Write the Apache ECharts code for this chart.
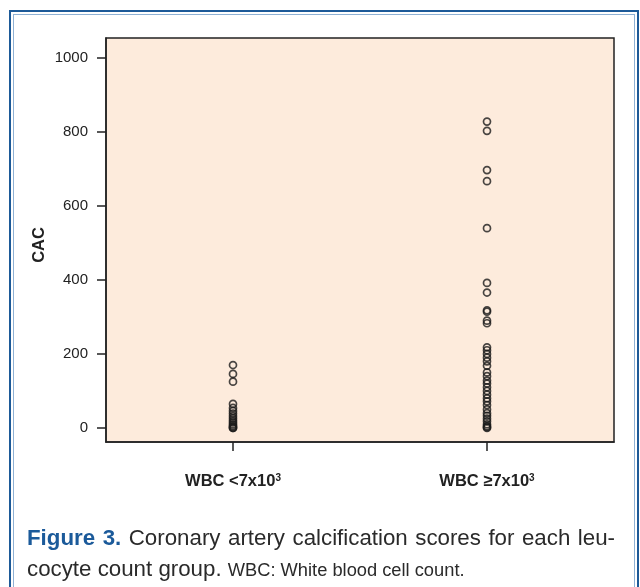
<!DOCTYPE html>
<html>
<head>
<meta charset="utf-8">
<script src="https://cdn.jsdelivr.net/npm/echarts@6/dist/echarts.min.js"></script>
<style>
  html, body { margin: 0; padding: 0; background: #fff; }
  #wrap { position: relative; width: 640px; height: 587px; overflow: hidden; background: #fff; }
  #frameOuter { position: absolute; left: 9px; top: 10px; width: 626px; height: 600px; border: 2px solid #1d5a98; }
  #frameInner { position: absolute; left: 2px; top: 2px; right: 2px; bottom: 2px; border: 1.5px solid #8fb1d4; }
  #chart { position: absolute; left: 0; top: 0; width: 640px; height: 587px; }
  #caption { position: absolute; left: 27px; top: 522px; width: 588px; font-family: "Liberation Sans", Arial, sans-serif; color: #2a2a2a; font-size: 22.3px; line-height: 31px; }
  #caption .l1 { text-align: justify; text-align-last: justify; white-space: nowrap; }
  #caption b { color: #1b5a9a; }
  #caption .small { font-size: 18.3px; }
</style>
</head>
<body>
<div id="wrap">
  <div id="frameOuter"><div id="frameInner"></div></div>
  <div id="chart"></div>
  <div id="caption">
    <div class="l1"><b>Figure 3.</b> Coronary artery calcification scores for each leu-</div>
    <div>cocyte count group. <span class="small">WBC: White blood cell count.</span></div>
  </div>
</div>
<script>
const categories = ['WBC <7x10{sup|3}', 'WBC \u22657x10{sup|3}'];
const yTicks = [0, 200, 400, 600, 800, 1000];
const groupLow = [170, 146, 125, 65, 54, 46, 39, 32, 26, 20, 15, 10, 6, 3, 0, 0];
const groupHigh = [828, 803, 697, 667, 540, 392, 366, 318, 314, 290, 283, 218, 210, 200, 190, 180, 168, 150, 140, 128, 120, 110, 100, 90, 80, 72, 62, 50, 40, 33, 25, 18, 10, 5, 2, 0];

const chart = echarts.init(document.getElementById('chart'));
const markerStyle = { color: 'rgba(0,0,0,0)', borderColor: '#1a1a1a', borderWidth: 1.7 };
const font = 'Liberation Sans, Arial, sans-serif';
chart.setOption({
  animation: false,
  backgroundColor: 'transparent',
  grid: { left: 106, top: 38, width: 508, height: 404, show: true, backgroundColor: '#fdebdc', borderColor: '#222', borderWidth: 1.5 },
  xAxis: {
    type: 'category',
    data: categories,
    boundaryGap: true,
    axisLine: { show: true, onZero: false, lineStyle: { color: '#222', width: 1.5 } },
    axisTick: { show: true, alignWithLabel: true, length: 9, lineStyle: { color: '#222', width: 1.5 } },
    axisLabel: {
      margin: 31, color: '#222', fontSize: 16.5, fontWeight: 'bold', fontFamily: font,
      rich: { sup: { fontSize: 10, fontWeight: 'bold', fontFamily: font, verticalAlign: 'top', padding: [0, 0, 7, 0], color: '#222' } }
    },
    splitLine: { show: false }
  },
  yAxis: {
    type: 'value',
    min: -38, max: 1054,
    name: 'CAC', nameLocation: 'middle', nameGap: 58, nameRotate: 90, nameMoveOverlap: false,
    nameTextStyle: { fontSize: 16.5, fontWeight: 'bold', color: '#222', fontFamily: font, padding: [0, 10, 0, 0] },
    axisLine: { show: true, lineStyle: { color: '#222', width: 1.5 } },
    axisTick: { show: true, length: 9, customValues: yTicks, lineStyle: { color: '#222', width: 1.5 } },
    axisLabel: { customValues: yTicks, margin: 18, color: '#222', fontSize: 15, fontFamily: font, formatter: v => String(v) },
    splitLine: { show: false }
  },
  series: [
    { type: 'scatter', symbol: 'circle', symbolSize: 7, itemStyle: markerStyle, data: groupLow.map(v => [0, v]) },
    { type: 'scatter', symbol: 'circle', symbolSize: 7, itemStyle: markerStyle, data: groupHigh.map(v => [1, v]) }
  ]
});
</script>
</body>
</html>
